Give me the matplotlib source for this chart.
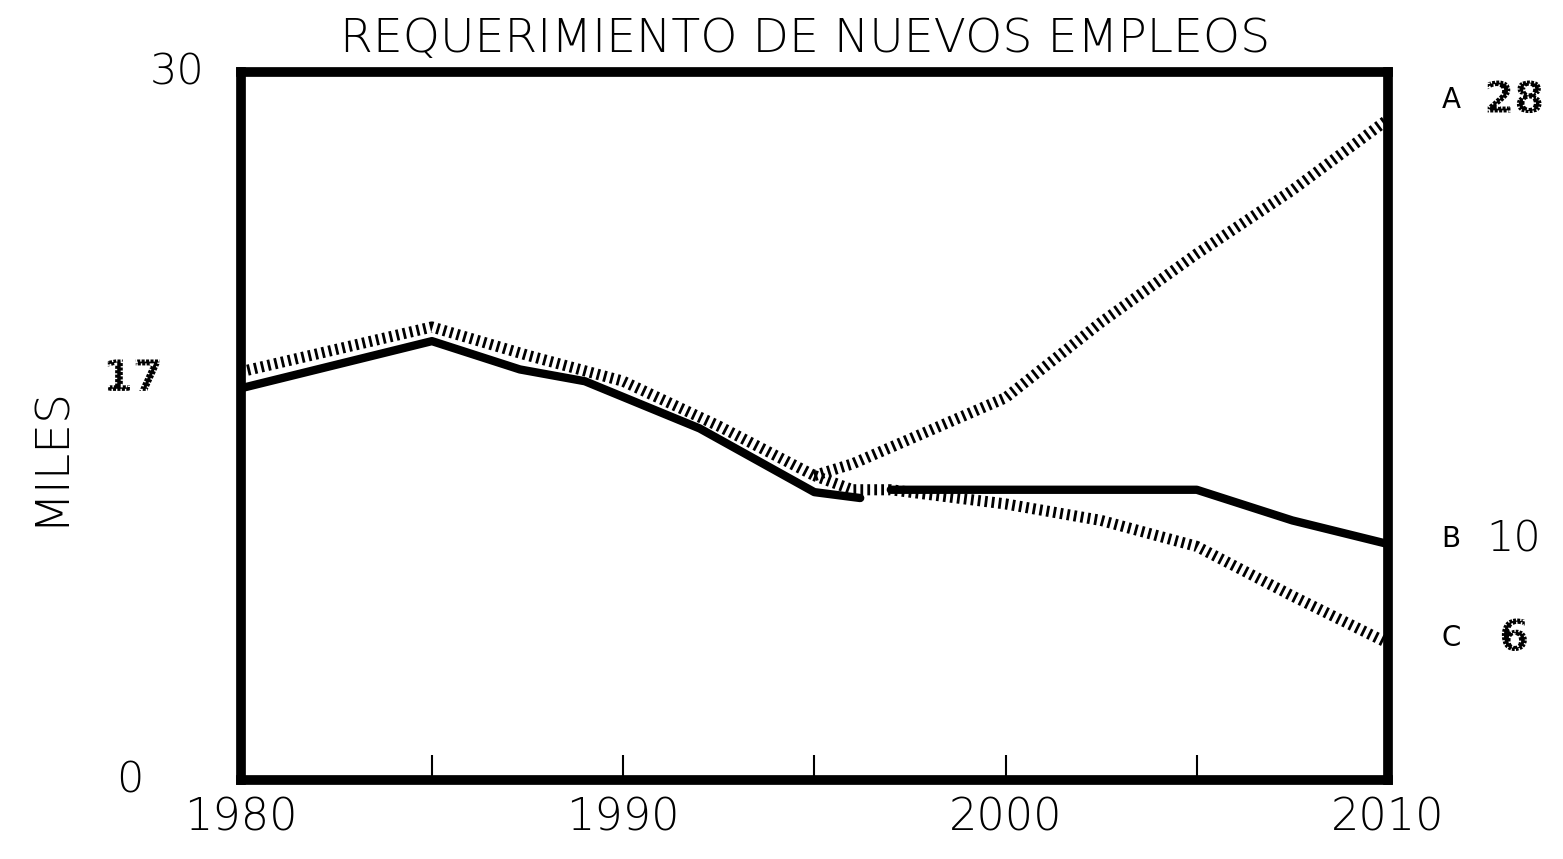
import matplotlib.pyplot as plt
import matplotlib.patheffects as pe

# solid line (B), drawn in two pieces
b_years1 = [1980, 1985, 1987.3, 1989, 1992, 1995, 1996.2]
b_vals1 = [16.6, 18.6, 17.4, 16.9, 14.9, 12.2, 11.95]
b_years2 = [1997, 2005, 2007.5, 2010]
b_vals2 = [12.3, 12.3, 11.0, 10.0]

# hatched line, common part up to 1995
h_years = [1980, 1985, 1987.5, 1990, 1992.5, 1995]
h_vals = [17.3, 19.2, 18.0, 16.9, 15.0, 12.9]

# hatched projections A and C
a_years = [1995, 1996, 2000, 2002.5, 2005, 2007.5, 2010]
a_vals = [12.9, 13.4, 16.2, 19.4, 22.3, 25.0, 28.0]
c_years = [1995, 1996, 1997, 2000, 2002.5, 2005, 2007.5, 2010]
c_vals = [12.9, 12.3, 12.3, 11.7, 11.0, 9.9, 7.8, 5.8]

x_ticks = [1980, 1985, 1990, 1995, 2000, 2005, 2010]
x_labels = ["1980", "", "1990", "", "2000", "", "2010"]
y_marks = [0, 17, 30]

plt.rcParams["lines.scale_dashes"] = False
plt.rcParams["font.family"] = ["DejaVu Sans"]

fig = plt.figure(figsize=(15.63, 8.59), dpi=100)
ax = fig.add_axes([0.154, 0.092, 0.734, 0.824])
ax.set_xlim(1980, 2010)
ax.set_ylim(0, 30)

hatch = dict(color="black", lw=8, linestyle=(0, (2.0, 3.0)),
             solid_capstyle="butt", dash_capstyle="butt")
ax.plot(h_years, h_vals, **hatch)
ax.plot(a_years, a_vals, **hatch)
ax.plot(c_years, c_vals, **hatch)
ax.plot(b_years1, b_vals1, color="black", lw=6, solid_capstyle="round")
ax.plot(b_years2, b_vals2, color="black", lw=6, solid_capstyle="round")

for s in ax.spines.values():
    s.set_linewidth(7)

ax.set_xticks(x_ticks)
ax.set_xticklabels(x_labels, fontsize=32, fontweight="light")
ax.tick_params(axis="x", direction="in", length=18, width=1.5, pad=12)
ax.set_yticks([])

# dotted look: white dashes cut the glyphs into pieces
dotted = [pe.Normal(),
          pe.PathPatchEffect(edgecolor="white", facecolor="none",
                             linewidth=3.0, linestyle=(0, (1.0, 2.2)))]

# y labels at hand-drawn offsets
yoff = {0: -0.085, 17: -0.068, 30: -0.032}
for v in y_marks:
    t = ax.text(yoff[v], v, str(v), transform=ax.get_yaxis_transform(),
                ha="right", va="center", fontsize=31, fontweight="light")
    if v == 17:
        t.set_fontweight("bold")
        t.set_path_effects(dotted)

fig.text(0.032, 0.47, "MILES", rotation=90, ha="center", va="center",
         fontsize=34, fontweight="light")

# end labels
ends = [("A", a_vals[-1], 0.8, True), ("B", b_vals2[-1], 0.2, False),
        ("C", c_vals[-1], 0.2, True)]
for name, v, dy, hatched in ends:
    ax.text(1.055, v + dy, name, transform=ax.get_yaxis_transform(),
            ha="center", va="center", fontsize=20)
    t = ax.text(1.11, v + dy, f"{v:.0f}", transform=ax.get_yaxis_transform(),
                ha="center", va="center", fontsize=31, fontweight="light")
    if hatched:
        t.set_fontweight("bold")
        t.set_path_effects(dotted)

fig.text(0.515, 0.955, "REQUERIMIENTO DE NUEVOS EMPLEOS", ha="center",
         va="center", fontsize=34, fontweight="light")

fig.savefig("out.png", dpi=100, facecolor="white")
